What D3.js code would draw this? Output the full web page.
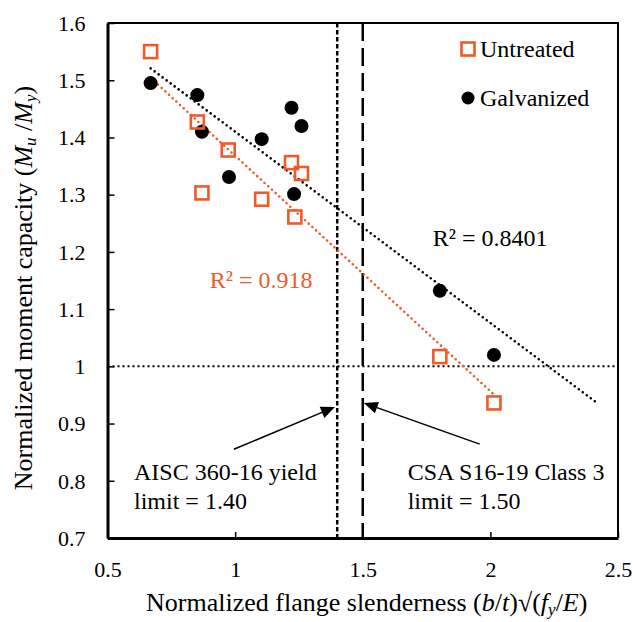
<!DOCTYPE html>
<html><head><meta charset="utf-8">
<script src="https://cdn.jsdelivr.net/npm/d3@7"></script>
<style>body{margin:0;background:#fff}</style>
</head><body>
<svg id="chart" width="633" height="622"></svg>
<script>
// ---- data ----
const untreatedX = [0.669, 0.852, 0.973, 0.870, 1.104, 1.221, 1.260, 1.234, 1.802, 2.014];
const untreatedY = [1.550, 1.427, 1.378, 1.303, 1.292, 1.356, 1.337, 1.261, 1.017, 0.936];
const galvX = [0.669, 0.852, 0.870, 1.104, 0.976, 1.221, 1.260, 1.231, 1.802, 2.014];
const galvY = [1.495, 1.474, 1.410, 1.397, 1.331, 1.452, 1.420, 1.301, 1.132, 1.020];
const xTicks = [0.5, 1, 1.5, 2, 2.5];
const yTicks = [0.7, 0.8, 0.9, 1, 1.1, 1.2, 1.3, 1.4, 1.5, 1.6];
const limits = [1.40, 1.50];
const galvForecastEnd = 2.417;
const seriesNames = ["Untreated", "Galvanized"];
const r2Labels = ["R\u00B2 = 0.918", "R\u00B2 = 0.8401"];

const ORANGE = "#F05A28";
const FONT = "'Liberation Serif','Times New Roman',serif";

const svg = d3.select("#chart");
svg.append("rect").attr("width",633).attr("height",622).attr("fill","#fff");

const x = d3.scaleLinear().domain([0.5, 2.5]).range([107.5, 618]);
const y = d3.scaleLinear().domain([0.7, 1.6]).range([538, 23]);

// plot border (top/right)
svg.append("path")
  .attr("d", `M${x(0.5)},${y(1.6)}H${x(2.5)}V${y(0.7)}`)
  .attr("fill","none").attr("stroke","#000").attr("stroke-width",2);

// reference lines
svg.append("line").attr("x1",x(0.5)).attr("x2",x(2.5)).attr("y1",y(1)).attr("y2",y(1))
  .attr("stroke","#000").attr("stroke-width",2).attr("stroke-dasharray","2,3");
svg.append("line").attr("x1",x(limits[0])).attr("x2",x(limits[0])).attr("y1",y(1.6)).attr("y2",y(0.7))
  .attr("stroke","#000").attr("stroke-width",2.5).attr("stroke-dasharray","4.5,2.5");
svg.append("line").attr("x1",x(limits[1])).attr("x2",x(limits[1])).attr("y1",y(1.6)).attr("y2",y(0.7))
  .attr("stroke","#000").attr("stroke-width",2.5).attr("stroke-dasharray","18,7");

// trendlines (least squares)
function fit(xs, ys){
  const n = xs.length, mx = d3.mean(xs), my = d3.mean(ys);
  let sxy=0, sxx=0;
  for(let i=0;i<n;i++){ sxy += (xs[i]-mx)*(ys[i]-my); sxx += (xs[i]-mx)**2; }
  const b = sxy/sxx; return {b, a: my - b*mx};
}
const fu = fit(untreatedX, untreatedY), fg = fit(galvX, galvY);
const gx0 = d3.min(galvX), ux0 = d3.min(untreatedX), ux1 = d3.max(untreatedX);
svg.append("line")
  .attr("x1",x(gx0)).attr("y1",y(fg.a+fg.b*gx0))
  .attr("x2",x(galvForecastEnd)).attr("y2",y(fg.a+fg.b*galvForecastEnd))
  .attr("stroke","#000").attr("stroke-width",2.6).attr("stroke-linecap","round").attr("stroke-dasharray","0,5");
svg.append("line")
  .attr("x1",x(ux0)).attr("y1",y(fu.a+fu.b*ux0))
  .attr("x2",x(ux1)).attr("y2",y(fu.a+fu.b*ux1))
  .attr("stroke",ORANGE).attr("stroke-width",2.6).attr("stroke-linecap","round").attr("stroke-dasharray","0,5");

// galvanized points
svg.append("g").selectAll("circle").data(galvX.map((v,i)=>[v,galvY[i]])).join("circle")
  .attr("cx",d=>x(d[0])).attr("cy",d=>y(d[1])).attr("r",7).attr("fill","#000");

// untreated points
const S = 13;
svg.append("g").selectAll("rect").data(untreatedX.map((v,i)=>[v,untreatedY[i]])).join("rect")
  .attr("x",d=>x(d[0])-S/2).attr("y",d=>y(d[1])-S/2).attr("width",S).attr("height",S)
  .attr("fill","none").attr("stroke",ORANGE).attr("stroke-width",2.6);

// axes
const xAxis = svg.append("g").attr("transform",`translate(0,${y(0.7)})`)
  .call(d3.axisBottom(x).tickValues(xTicks).tickFormat(d3.format("")).tickSizeInner(-6).tickSizeOuter(0).tickPadding(0));
const yAxis = svg.append("g").attr("transform",`translate(${x(0.5)},0)`)
  .call(d3.axisLeft(y).tickValues(yTicks).tickFormat(d3.format("")).tickSizeInner(-7).tickSizeOuter(0).tickPadding(22));
[xAxis,yAxis].forEach(g=>{
  g.select(".domain").attr("stroke","#000").attr("stroke-width",3);
  g.selectAll(".tick line").attr("stroke","#000").attr("stroke-width",1.5);
  g.selectAll("text").attr("font-family",FONT).attr("font-size",22).attr("fill","#000");
});
xAxis.selectAll("text").attr("y",39).attr("dy",0);
yAxis.selectAll("text").attr("dy","0.33em");

// axis titles
const xt = svg.append("text").attr("x",(x(0.5)+x(2.5))/2 + 4).attr("y",611).attr("text-anchor","middle")
  .attr("font-family",FONT).attr("font-size",26);
xt.append("tspan").text("Normalized flange slenderness (");
xt.append("tspan").attr("font-style","italic").text("b");
xt.append("tspan").text("/");
xt.append("tspan").attr("font-style","italic").text("t");
xt.append("tspan").text(")\u221A(");
xt.append("tspan").attr("font-style","italic").text("f");
xt.append("tspan").attr("font-style","italic").attr("font-size",17).attr("dy",4).text("y");
xt.append("tspan").attr("dy",-4).text("/");
xt.append("tspan").attr("font-style","italic").text("E");
xt.append("tspan").text(")");

const yt = svg.append("text").attr("transform",`translate(32,288) rotate(-90)`)
  .attr("text-anchor","middle").attr("font-family",FONT).attr("font-size",26);
yt.append("tspan").text("Normalized moment capacity (");
yt.append("tspan").attr("font-style","italic").text("M");
yt.append("tspan").attr("font-style","italic").attr("font-size",17).attr("dy",4).text("u");
yt.append("tspan").attr("dy",-4).text(" /");
yt.append("tspan").attr("font-style","italic").text("M");
yt.append("tspan").attr("font-style","italic").attr("font-size",17).attr("dy",4).text("y");
yt.append("tspan").attr("dy",-4).text(")");

// R² labels
svg.append("text").attr("x",x(0.901)).attr("y",y(1.137)).attr("fill",ORANGE)
  .attr("font-family",FONT).attr("font-size",24).text(r2Labels[0]);
svg.append("text").attr("x",x(1.774)).attr("y",y(1.210)).attr("fill","#000")
  .attr("font-family",FONT).attr("font-size",24).text(r2Labels[1]);

// legend
svg.append("rect").attr("x",468-6.5).attr("y",49-6.5).attr("width",13).attr("height",13)
  .attr("fill","none").attr("stroke",ORANGE).attr("stroke-width",2.6);
svg.append("text").attr("x",480).attr("y",49).attr("dy","0.35em").attr("font-family",FONT).attr("font-size",24).text(seriesNames[0]);
svg.append("circle").attr("cx",468).attr("cy",98).attr("r",6.5).attr("fill","#000");
svg.append("text").attr("x",480).attr("y",98).attr("dy","0.35em").attr("font-family",FONT).attr("font-size",24).text(seriesNames[1]);

// annotations with arrows
function arrow(x0,y0,x1,y1){
  const X0=x(x0),Y0=y(y0),X1=x(x1),Y1=y(y1);
  const ang=Math.atan2(Y1-Y0,X1-X0), L=14, W=6;
  const bx=X1-L*Math.cos(ang), by=Y1-L*Math.sin(ang);
  svg.append("line").attr("x1",X0).attr("y1",Y0).attr("x2",bx).attr("y2",by).attr("stroke","#000").attr("stroke-width",1.5);
  svg.append("path").attr("d",`M${X1},${Y1}L${bx+W*Math.sin(ang)},${by-W*Math.cos(ang)}L${bx-W*Math.sin(ang)},${by+W*Math.cos(ang)}Z`).attr("fill","#000");
}
arrow(0.995,0.855,1.391,0.929);
arrow(1.958,0.864,1.504,0.936);
function label(xv,yv,lines){
  lines.forEach((t,i)=>svg.append("text").attr("x",x(xv)).attr("y",y(yv)+i*29)
    .attr("font-family",FONT).attr("font-size",24).text(t));
}
label(0.604,0.801,["AISC 360-16 yield","limit = 1.40"]);
label(1.676,0.801,["CSA S16-19 Class 3","limit = 1.50"]);
</script>
</body></html>
